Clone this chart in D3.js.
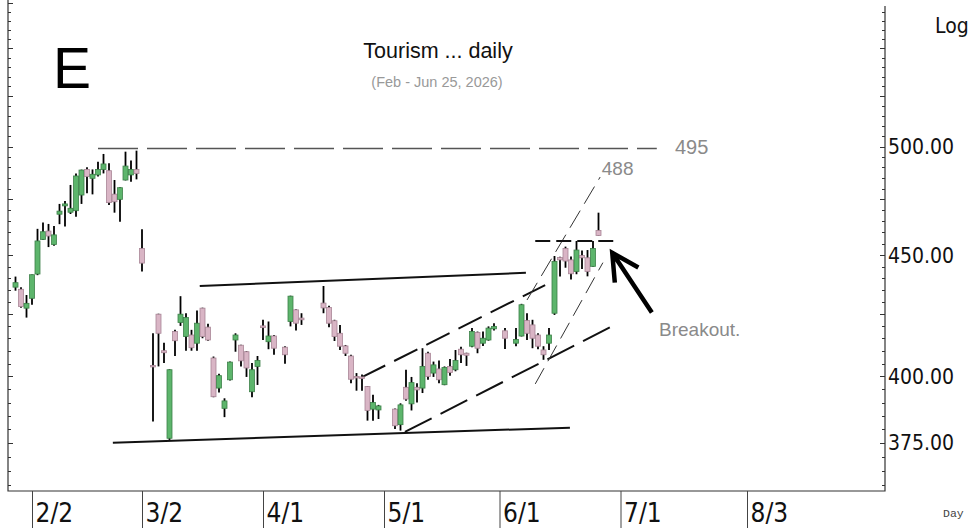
<!DOCTYPE html>
<html>
<head>
<meta charset="utf-8">
<script src="https://cdn.jsdelivr.net/npm/d3@7"></script>
<style>
body { margin: 0; background: #fff; }
svg { display: block; }
</style>
</head>
<body>
<svg id="chart" width="971" height="528"></svg>
<script>
// one bar per weekday, starting Wed 28 Jan 2026; null = no bar on that day
var firstDay = "2026-01-28"
var opens = [436.2, 435.3, 427.4, 431.5, 441.8, 456.9, 460.6, 454.6, 468.2, 472.0,
	469.1, 469.8, 477.0, 489.0, 484.8, 486.4, 489.0, 488.4, 477.4, 475.0,
	484.0, 486.4, 489.0, 452.9, null, 404.3, 424.9, 410.1, 376.7, 417.8,
	421.5, 415.8, 416.4, 413.1, 427.4, 419.6, 407.2, 395.5, 387.8, 398.7,
	414.4, 412.3, 409.7, 394.1, 403.9, 420.1, 413.7, 416.0, null, 411.5,
	421.9, 426.7, 423.3, null, null, null, 429.5, 427.7, 422.2, 417.1,
	412.0, 408.0, 400.0, 399.8, 396.1, 387.5, 387.2, null, null, 387.5,
	381.7, 395.8, 389.5, 395.8, 395.5, 409.1, 401.3, 402.9, 396.8, 403.9,
	402.6, 410.7, 409.1, 411.9, 417.4, 413.1, 414.4, 418.9, null, 418.1,
	null, 413.1, 416.0, 422.3, 420.5, 416.4, 410.4, 413.1, 425.3, 448.9,
	452.9, 447.9, 442.9, 449.8, 448.8, 445.1, 460.9]
var highs = [440.7, 436.2, 432.9, 441.6, 461.6, 464.4, 463.8, 462.9, 472.9, 474.2,
	481.7, 487.1, 488.9, 490.0, 489.0, 492.7, 496.4, 491.9, 484.0, 480.6,
	497.5, 493.2, 498.0, 461.4, null, 417.1, 425.1, 413.3, 402.8, 418.5,
	432.4, 425.3, 418.5, 426.4, 427.6, 421.0, 407.8, 401.0, 391.6, 405.8,
	417.1, 412.5, 410.0, 405.2, 408.0, 422.6, 421.9, 416.4, null, 411.9,
	432.6, 426.9, 425.3, null, null, null, 436.7, 428.4, 422.6, 420.5,
	412.4, 408.5, 401.3, 400.7, 396.3, 392.9, 389.1, null, null, 387.7,
	389.7, 402.6, 399.8, 397.4, 411.1, 409.7, 405.8, 406.2, 403.9, 406.8,
	410.4, 411.7, 409.3, 419.2, 417.8, 417.8, 419.9, 421.2, null, 419.2,
	null, 419.2, 429.2, 425.3, 422.6, 417.1, 411.9, 419.2, 449.6, 449.3,
	453.7, 449.4, 456.2, 452.0, 452.2, 456.2, 468.9]
var lows = [434.7, 427.6, 423.5, 428.8, 441.3, 456.6, 453.5, 454.1, 463.7, 462.6,
	468.3, 467.1, 472.9, 477.8, 477.3, 485.6, 487.1, 472.4, 468.9, 464.8,
	483.8, 483.2, 484.3, 442.9, null, 382.9, 403.9, 405.2, 376.1, 408.0,
	420.1, 410.1, 410.1, 410.1, 415.1, 414.1, 392.0, 393.8, 384.5, 398.4,
	409.7, 403.9, 399.8, 392.0, 396.7, 414.4, 410.7, 408.5, null, 404.9,
	419.9, 418.2, 420.5, null, null, null, 425.3, 419.6, 414.0, 410.4,
	408.0, 397.4, 394.5, 394.5, 383.2, 383.2, 383.8, null, null, 380.1,
	379.5, 390.7, 387.0, 390.0, 393.6, 398.7, 399.8, 397.4, 396.6, 400.3,
	402.0, 405.2, 404.1, 411.5, 409.1, 412.0, 414.1, 418.2, null, 410.8,
	null, 411.9, 415.8, 414.4, 411.1, 410.7, 406.5, 410.4, 424.6, 440.7,
	444.5, 439.5, 441.7, 444.0, 440.8, 444.9, 458.5]
var closes = [438.1, 428.1, 429.4, 441.5, 456.2, 460.3, 458.4, 458.9, 469.6, 472.9,
	470.9, 485.9, 488.7, 485.6, 486.7, 489.0, 491.6, 473.5, 473.9, 480.4,
	490.6, 489.0, 487.1, 446.5, null, 403.7, 417.1, 409.3, 402.6, 414.1,
	424.9, 423.5, 411.3, 421.2, 415.8, 414.4, 392.2, 400.3, 390.6, 405.6,
	416.4, 406.1, 403.3, 402.6, 406.2, 419.4, 416.0, 411.1, null, 408.5,
	432.4, 421.2, 422.6, null, null, null, 427.5, 421.2, 415.8, 411.9,
	409.1, 398.9, 399.4, 399.2, 387.0, 390.0, 388.7, null, null, 381.3,
	389.1, 391.3, 397.6, 394.8, 403.9, 400.0, 404.5, 398.7, 403.5, 401.5,
	406.2, 408.5, 408.3, 417.8, 411.1, 415.1, 419.2, 419.9, null, 415.1,
	null, 414.6, 428.8, 417.1, 415.1, 411.9, 408.5, 416.4, 447.2, 447.9,
	447.4, 441.9, 452.2, 448.8, 442.9, 452.9, 458.6]

var monthTicks = ["2026-02-02", "2026-03-02", "2026-04-01", "2026-05-01", "2026-06-01", "2026-07-01", "2026-08-03"]
var monthLabels = ["2/2", "3/2", "4/1", "5/1", "6/1", "7/1", "8/3"]
var priceLabels = [375, 400, 450, 500]

// hand drawn lines, [bar position, price]
var resistLine = [[33.5, 436.7], [92.8, 442.3]]
var supportLine = [[17.7, 375.1], [100.8, 380.6]]
var targetLine = [[15.0, 499], [116.6, 499]]
var chanTop = [[63, 399.7], [96.3, 437.1]]
var chanBottom = [[70.8, 379.0], [109.4, 421.0]]
var steepA = [[93, 430.8], [106.3, 485.4]]
var steepB = [[94.5, 397.1], [106.8, 446.7]]
var breakLine = [[94.5, 456.2], [109.5, 456.2]]
var arrowLine = [[115.7, 425.6], [108.5, 451.0]]

var parse = d3.utcParse("%Y-%m-%d"), fmt = d3.utcFormat("%Y-%m-%d")
var dates = []
for (var d = parse(firstDay); dates.length < 160; d = d3.utcDay.offset(d, 1)) {
	var wd = d.getUTCDay()
	if (wd != 0 && wd != 6) dates.push(fmt(d))
}

const LEFT = 8, RIGHT = 885, BOTTOM = 491
var chart = d3.select("#chart")
var x = d3.scaleLinear().domain([0, 158]).range([15.5, 884.5])
var y = d3.scaleLog().domain([357.9, 576.4]).range([BOTTOM, 0])

var bars = opens.map((o, i) => ({ i: i, o: o, h: highs[i], l: lows[i], c: closes[i] }))
	.filter(b => b.o != null)

// frame
chart.append("path")
	.attr("d", "M" + LEFT + ",0V" + BOTTOM + "H" + RIGHT + "V6")
	.attr("fill", "none").attr("stroke", "#333").attr("stroke-width", 1.2)

// price ticks on both sides
var minor = d3.range(360, 580, 5)
var isMajor = v => v % 25 == 0
chart.append("g").selectAll("line").data(minor).enter().append("line")
	.attr("x1", LEFT).attr("x2", v => LEFT + (isMajor(v) ? 5 : 3))
	.attr("y1", v => Math.round(y(v)) + 0.5).attr("y2", v => Math.round(y(v)) + 0.5)
	.attr("stroke", "#333")
chart.append("g").selectAll("line").data(minor.filter(v => y(v) > 6)).enter().append("line")
	.attr("x1", RIGHT).attr("x2", v => RIGHT - (isMajor(v) ? 5 : 3))
	.attr("y1", v => Math.round(y(v)) + 0.5).attr("y2", v => Math.round(y(v)) + 0.5)
	.attr("stroke", "#333")

chart.append("g").selectAll("text").data(priceLabels).enter().append("text")
	.attr("x", RIGHT + 3).attr("y", v => y(v)).attr("dy", "0.36em")
	.attr("font-family", "'DejaVu Sans Condensed', 'DejaVu Sans', sans-serif")
	.attr("font-size", "21px").attr("fill", "#111")
	.text(d3.format(".2f"))
chart.append("text").attr("x", 935).attr("y", 33)
	.attr("font-family", "'DejaVu Sans Condensed', 'DejaVu Sans', sans-serif")
	.attr("font-size", "21px").attr("fill", "#111").text("Log")
chart.append("text").attr("x", 943).attr("y", 517)
	.attr("font-family", "'Liberation Mono', 'DejaVu Sans Mono', monospace")
	.attr("font-size", "11.5px").attr("fill", "#444").text("Day")

// month axis
var tickPos = monthTicks.map(t => dates.indexOf(t))
var xAxis = chart.append("g")
	.attr("transform", "translate(0," + BOTTOM + ")")
	.call(d3.axisBottom(x).tickValues(tickPos).tickSize(37).tickFormat((d, i) => monthLabels[i]))
xAxis.select(".domain").remove()
xAxis.selectAll("line").attr("stroke", "#444")
xAxis.selectAll("text")
	.attr("x", 3).attr("y", 31).attr("dy", null)
	.attr("text-anchor", "start")
	.attr("font-family", "'Liberation Sans Narrow', 'DejaVu Sans Condensed', sans-serif")
	.attr("font-size", "26px").attr("fill", "#111")

// titles
chart.append("text").attr("x", 72).attr("y", 88).attr("text-anchor", "middle")
	.attr("font-family", "'Liberation Sans', Arial, sans-serif")
	.attr("font-size", "57px").attr("fill", "#000").text("E")
chart.append("text").attr("x", 438).attr("y", 58).attr("text-anchor", "middle")
	.attr("font-family", "'Liberation Sans', Arial, sans-serif")
	.attr("font-size", "21.5px").attr("fill", "#111").text("Tourism ... daily")
chart.append("text").attr("x", 437).attr("y", 87).attr("text-anchor", "middle")
	.attr("font-family", "'Liberation Sans', Arial, sans-serif")
	.attr("font-size", "14.5px").attr("fill", "#999").text("(Feb - Jun 25, 2026)")

// lines behind the candles
var line = d3.line().x(p => x(p[0])).y(p => y(p[1]))
function drawLine(pts, color, width, dash) {
	chart.append("path").attr("d", line(pts))
		.attr("fill", "none").attr("stroke", color).attr("stroke-width", width)
		.attr("stroke-dasharray", dash)
}
drawLine(targetLine, "#555", 1.5, "40,9")
drawLine(resistLine, "#111", 2, null)
drawLine(supportLine, "#111", 2, null)
drawLine(chanTop, "#111", 2, "26,10")
drawLine(chanBottom, "#111", 2, "30,10")
drawLine(steepA, "#333", 1, "20,8")
drawLine(steepB, "#333", 1, "18,8")
drawLine(breakLine, "#111", 2, "15,6")

// candles
var cg = chart.append("g")
cg.selectAll("line").data(bars).enter().append("line")
	.attr("x1", b => x(b.i)).attr("x2", b => x(b.i))
	.attr("y1", b => y(b.h)).attr("y2", b => y(b.l))
	.attr("stroke", "#000").attr("stroke-width", 1.8)
cg.selectAll("rect").data(bars).enter().append("rect")
	.attr("x", b => x(b.i) - 2.5).attr("width", 5)
	.attr("y", b => y(Math.max(b.o, b.c)))
	.attr("height", b => Math.max(1.5, Math.abs(y(b.o) - y(b.c))))
	.attr("fill", b => b.c >= b.o ? "#5db56c" : "#d9b5c5")
	.attr("stroke", b => b.c >= b.o ? "#3d8049" : "#a88696")
	.attr("stroke-width", 0.8)

// arrow
var p0 = [x(arrowLine[0][0]), y(arrowLine[0][1])], p1 = [x(arrowLine[1][0]), y(arrowLine[1][1])]
var ang = Math.atan2(p0[1] - p1[1], p0[0] - p1[0])
var head = [ang - 0.47, ang + 0.5].map(a => [p1[0] + 30 * Math.cos(a), p1[1] + 30 * Math.sin(a)])
chart.append("path")
	.attr("d", "M" + p0 + "L" + p1 + "M" + head[0] + "L" + p1 + "L" + head[1])
	.attr("fill", "none").attr("stroke", "#000").attr("stroke-width", 4.5)
	.attr("stroke-linejoin", "miter")

// annotations
function note(txt, i, price, size) {
	chart.append("text").attr("x", x(i)).attr("y", y(price)).attr("dy", "0.36em")
		.attr("font-family", "'Liberation Sans', Arial, sans-serif")
		.attr("font-size", size).attr("fill", "#8a8a8a").text(txt)
}
note("495", 119.9, 499.8, "20px")
note("488", 106.6, 489.8, "19px")
note("Breakout.", 117, 418.9, "19px")
</script>
</body>
</html>
